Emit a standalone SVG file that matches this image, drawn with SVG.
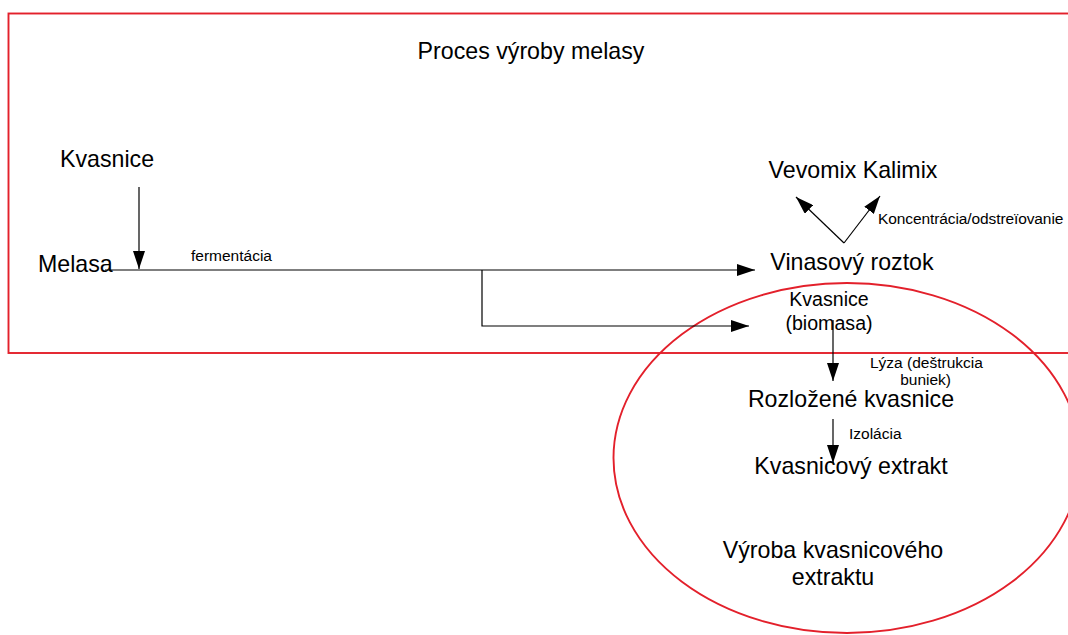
<svg xmlns="http://www.w3.org/2000/svg" width="1068" height="635" viewBox="0 0 1068 635">
<defs>
<style>
.frame{fill:none;stroke:#e3202b;stroke-width:1.9}
.t{font-family:"Liberation Sans",Arial,sans-serif;fill:#000}
.big{font-size:23.2px}
.mid{font-size:19.6px}
.sm{font-size:15.5px}
.c{fill:none;stroke:#000;stroke-width:1.2}
</style>
<marker id="ah" viewBox="0 0 18 12" refX="18" refY="6" markerWidth="18" markerHeight="12" markerUnits="userSpaceOnUse" orient="auto">
<path d="M0,0 L18,6 L0,12 Z" fill="#000"/>
</marker>
</defs>
<rect width="1068" height="635" fill="#fff"/>
<g id="process-frame">
<rect class="frame" x="8.5" y="13.5" width="1070" height="339.5"/>
<text class="t big" x="531" y="59" text-anchor="middle">Proces výroby melasy</text>
</g>
<g id="extract-frame">
<ellipse class="frame" cx="847" cy="458" rx="233.5" ry="175"/>
<text class="t big" x="833" y="558" text-anchor="middle">Výroba kvasnicového</text>
<text class="t big" x="833" y="585" text-anchor="middle">extraktu</text>
</g>
<g id="connectors">
<line class="c" x1="139" y1="187" x2="139" y2="269" marker-end="url(#ah)"/>
<line class="c" x1="105" y1="270" x2="755" y2="270" marker-end="url(#ah)"/>
<polyline class="c" points="482,270 482,326 749,326" marker-end="url(#ah)"/>
<line class="c" x1="844" y1="243" x2="796" y2="197" marker-end="url(#ah)"/>
<line class="c" x1="844" y1="243" x2="880" y2="196" marker-end="url(#ah)"/>
<line class="c" x1="833" y1="320" x2="833" y2="381" marker-end="url(#ah)"/>
<line class="c" x1="833" y1="419" x2="833" y2="463" marker-end="url(#ah)"/>
<text class="t sm" x="191" y="261">fermentácia</text>
<text class="t sm" x="878" y="224" letter-spacing="-0.1">Koncentrácia/odstreïovanie</text>
<text class="t sm" x="870" y="368">Lýza (deštrukcia</text>
<text class="t sm" x="951" y="385" text-anchor="end">buniek)</text>
<text class="t sm" x="849" y="439">Izolácia</text>
</g>
<g id="kvasnice"><text class="t big" x="107" y="167" text-anchor="middle">Kvasnice</text></g>
<g id="melasa"><text class="t big" x="38" y="272">Melasa</text></g>
<g id="vevomix"><text class="t big" x="853" y="178" text-anchor="middle">Vevomix Kalimix</text></g>
<g id="vinasovy"><text class="t big" x="852" y="270" text-anchor="middle">Vinasový roztok</text></g>
<g id="kvasnice-biomasa">
<text class="t mid" x="829" y="306" text-anchor="middle">Kvasnice</text>
<text class="t mid" x="829" y="330" text-anchor="middle">(biomasa)</text>
</g>
<g id="rozlozene"><text class="t big" x="851" y="407" text-anchor="middle">Rozložené kvasnice</text></g>
<g id="extrakt"><text class="t big" x="851" y="474" text-anchor="middle">Kvasnicový extrakt</text></g>
</svg>
